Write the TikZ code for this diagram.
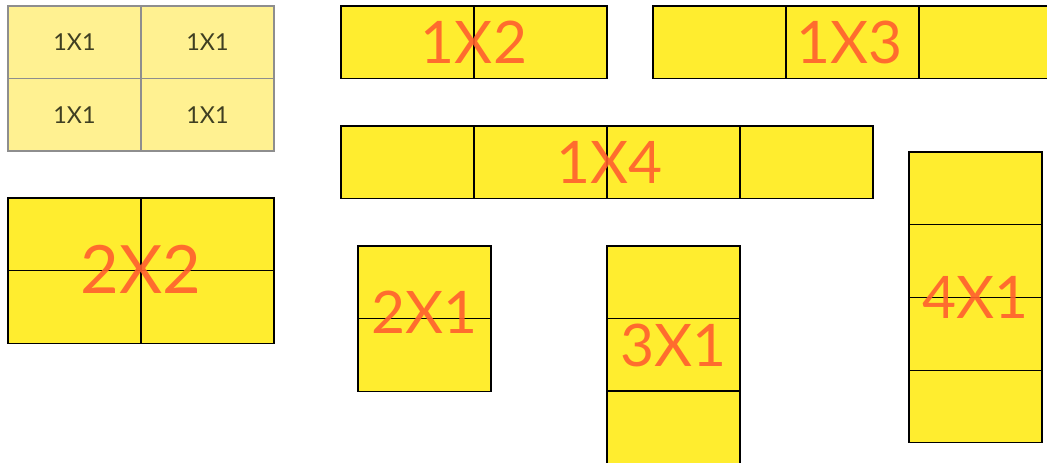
\documentclass[tikz,border=0pt]{standalone}
\usepackage{fontspec}
\setmainfont{Lato}
\usetikzlibrary{positioning}
\usepackage{xcolor}
\definecolor{Sun}{HTML}{FFED2F}
\definecolor{Pale}{HTML}{FFF191}
\definecolor{Coral}{HTML}{FF5F2E}
\definecolor{Ink}{HTML}{3F3F22}
\definecolor{Rim}{HTML}{8E8E8E}

\tikzset{
  cell/.style={draw=black,fill=Sun,line width=0.8pt,minimum width=99.75pt,
    minimum height=54.4pt,inner sep=0pt,outer sep=0pt,anchor=north west},
  palecell/.style={cell,draw=Rim,line width=1.1pt,fill=Pale,text=Ink,
    font=\fontsize{17.5}{17.5}\selectfont},
  biglabel/.style={text=Coral,text opacity=0.9,inner sep=0pt,
    font=\fontsize{44}{44}\selectfont}
}

\begin{document}
\begin{tikzpicture}[x=0.75pt,y=-0.75pt]
    \useasboundingbox (0,0) rectangle (1047,462);
    % single tiles
    \foreach \r in {0,1}{
      \foreach \c in {0,1}{
        \node[palecell] (one\r\c) at (8+\c*133,6+\r*72.5) {1X1};
      }
    }
    % 2x2
    \foreach \r in {0,1}{
      \foreach \c in {0,1}{
        \node[cell] (sq\r\c) at (8+\c*133,198+\r*72.5) {};
      }
    }
    \node[biglabel,font=\fontsize{50}{50}\selectfont,yshift=1pt] (sqtext)
      at (sq00.south east) {2X2};
    % 1x2
    \foreach \c in {0,1}
      \node[cell] (pair\c) at (341+\c*133,6) {};
    \node[biglabel] (pairtext) at (pair0.east) {1X2};
    % 1x3
    \foreach \c in {0,1,2}
      \node[cell] (tri\c) at (653+\c*133,6) {};
    \node[biglabel,xshift=-2pt] (tritext) at (tri1.center) {1X3};
    % 1x4
    \foreach \c in {0,1,2,3}
      \node[cell] (quad\c) at (341+\c*133,126) {};
    \node[biglabel,xshift=2pt] (quadtext) at (quad1.east) {1X4};
    % 2x1
    \foreach \r in {0,1}
      \node[cell] (duo\r) at (358,246+\r*72.5) {};
    \node[biglabel,yshift=4.5pt] (duotext) at (duo0.south) {2X1};
    % 3x1
    \foreach \r in {0,1,2}
      \node[cell] (col\r) at (607,246+\r*72.5) {};
    \node[biglabel,yshift=7pt] (coltext) at (col1.center) {3X1};
    % 4x1
    \foreach \r in {0,1,2,3}
      \node[cell] (tall\r) at (909,152+\r*72.75) {};
    \node[biglabel] (talltext) at (tall1.south) {4X1};
  \end{tikzpicture}
\end{document}
